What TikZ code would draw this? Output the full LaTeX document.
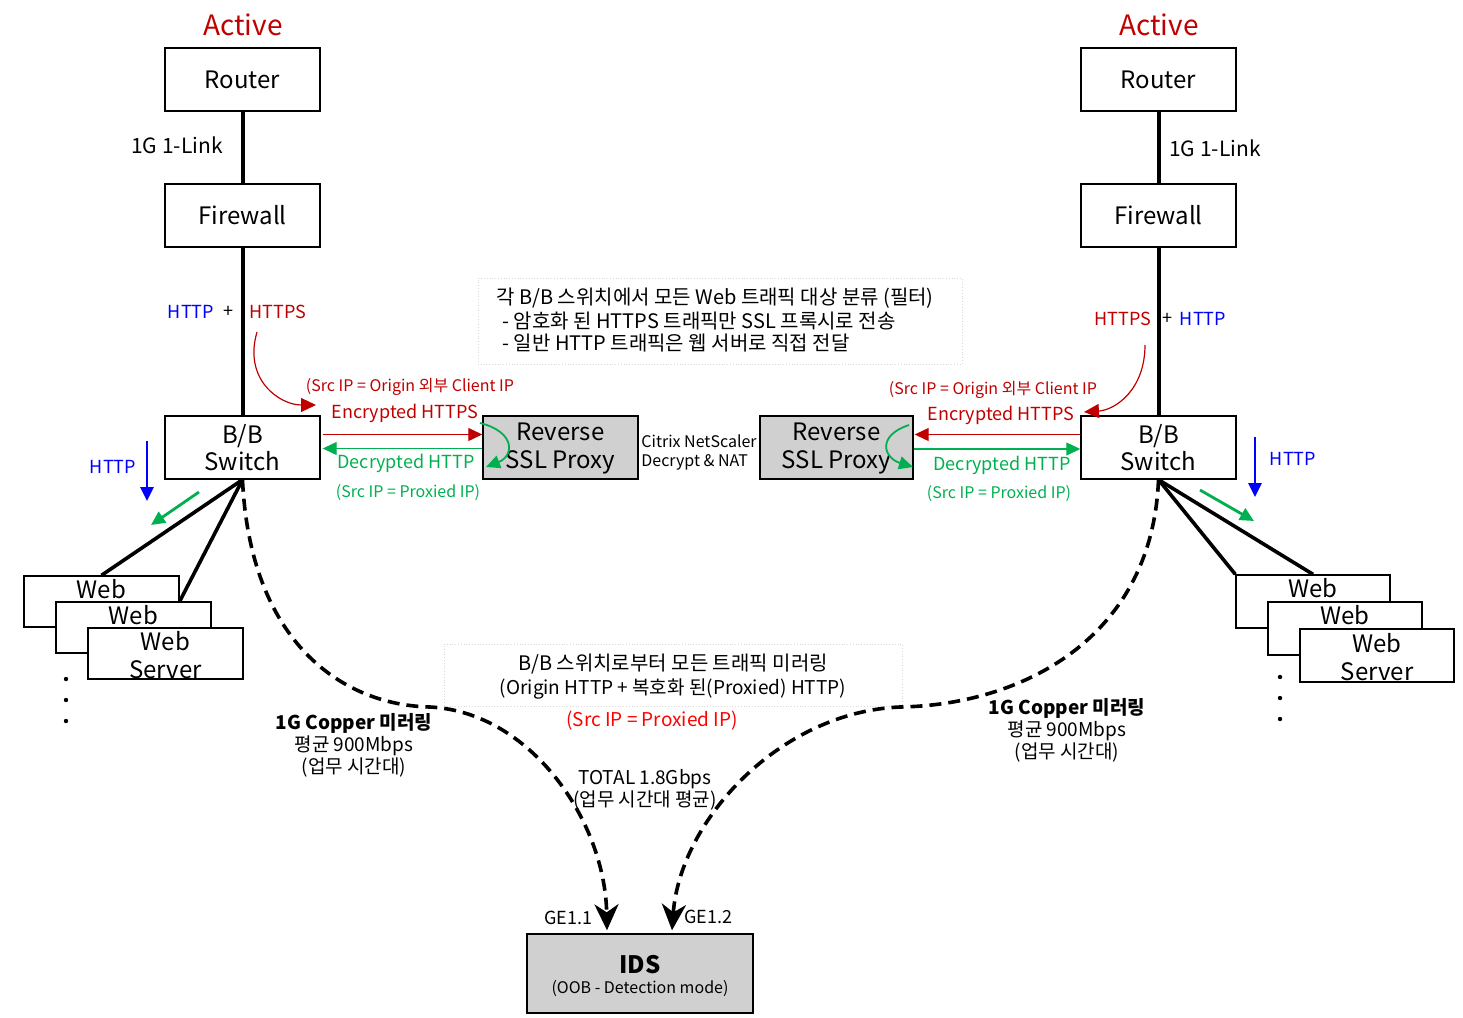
\documentclass[tikz,border=0pt]{standalone}
\usepackage{fontspec}
\setmainfont{Noto Sans CJK KR}
\usetikzlibrary{arrows.meta,calc}
\definecolor{dred}{HTML}{C00000}
\definecolor{mblue}{HTML}{0000FF}
\definecolor{mgreen}{HTML}{00B050}
\definecolor{mred}{HTML}{FF0000}
\definecolor{boxgray}{HTML}{D0D0D0}
\definecolor{notegray}{HTML}{D8D8D8}
\tikzset{
  box/.style={draw, line width=0.7pt, minimum width=77.5pt, minimum height=31.5pt, align=center, inner sep=0pt, font=\fontsize{12}{13.5}\selectfont},
  webbox/.style={draw, fill=white, line width=0.7pt, minimum width=77.5pt, minimum height=25.5pt, inner sep=0pt},
  notebox/.style={draw=notegray, densely dotted, line width=0.4pt, inner sep=0pt},
  txt/.style={inner sep=0pt, align=center},
  f8/.style={txt, font=\fontsize{8}{9.5}\selectfont},
  f9/.style={txt, font=\fontsize{9}{11}\selectfont},
  f95/.style={txt, font=\fontsize{9.5}{11}\selectfont},
  f10/.style={txt, font=\fontsize{10}{12}\selectfont},
  f105/.style={txt, font=\fontsize{10.5}{12}\selectfont},
  f12/.style={txt, font=\fontsize{12}{14}\selectfont},
  f14/.style={txt, font=\fontsize{14}{16}\selectfont},
  thickline/.style={line width=2pt},
  webline/.style={line width=1.8pt},
  dashline/.style={line width=1.8pt, dash pattern=on 6pt off 3.5pt, -{Stealth[length=13pt, width=12pt, inset=4pt]}},
  redarrow/.style={dred, line width=0.6pt, -{Triangle[length=7pt, width=6.5pt]}},
  grnarrow/.style={mgreen, line width=0.6pt, -{Triangle[length=7pt, width=6.5pt]}},
  grncurve/.style={mgreen, line width=0.9pt, -{Triangle[length=7pt, width=6.5pt]}},
  redcurve/.style={dred, line width=0.6pt, -{Triangle[length=7.5pt, width=7pt]}},
  smallarrow/.style={line width=1.4pt, -{Triangle[length=7pt, width=6.5pt]}},
  dot/.style={circle, fill=black, inner sep=0pt, minimum size=2.2pt}
}
\begin{document}
\begin{tikzpicture}[x=0.5pt, y=-0.5pt]
\useasboundingbox (0,0) rectangle (1463,1018);

% ---------- notes ----------
\node[notebox, minimum width=242pt, minimum height=43pt] (topnote) at (720,321) {};
\node[f10, anchor=west] (tn1) at (496,298) {각 B/B 스위치에서 모든 Web 트래픽 대상 분류 (필터)};
\node[f10, anchor=west] (tn2) at (502,321) {- 암호화 된 HTTPS 트래픽만 SSL 프록시로 전송};
\node[f10, anchor=west] (tn3) at (502,343) {- 일반 HTTP 트래픽은 웹 서버로 직접 전달};

\node[notebox, minimum width=229pt, minimum height=31pt] (mnote) at (673,675) {};
\node[f10] (mn1) at (673,664) {B/B 스위치로부터 모든 트래픽 미러링};
\node[f95] (mn2) at (673,689) {(Origin HTTP + 복호화 된(Proxied) HTTP)};

% ---------- left column ----------
\node[f14, text=dred] (actL) at (243,25) {Active};
\node[box] (rtL) at (242.5,79.5) {Router};
\node[box] (fwL) at (242.5,215.5) {Firewall};
\node[box] (bbL) at (242.5,447.5) {B/B\\Switch};
\node[box, fill=boxgray] (pxL) at (560.5,447.5) {};
\node[f12] (pxLt) at (560.5,449) {Reverse\\SSL Proxy};

% ---------- right column ----------
\node[f14, text=dred] (actR) at (1159,25) {Active};
\node[box] (rtR) at (1158.5,79.5) {Router};
\node[box] (fwR) at (1158.5,215.5) {Firewall};
\node[box] (bbR) at (1158.5,447.5) {B/B\\Switch};
\node[box, fill=boxgray, minimum width=76.5pt] (pxR) at (836.5,447.5) {};
\node[f12] (pxRt) at (836.5,449) {Reverse\\SSL Proxy};

\draw[thickline] (rtL) -- (fwL);
\draw[thickline] (fwL) -- (bbL);
\draw[thickline] (rtR) -- (fwR);
\draw[thickline] (fwR) -- (bbR);

\node[f105] (lkL) at (177,145) {1G 1-Link};
\node[f105] (lkR) at (1215,148) {1G 1-Link};

\node[f9, text=mblue] (hL1) at (191,312) {HTTP};
\node[f9] (pL) at (228,312) {+};
\node[f9, text=dred] (hL2) at (278,312) {HTTPS};
\node[f9, text=dred] (hR1) at (1123,319) {HTTPS};
\node[f9] (pR) at (1167,319) {+};
\node[f9, text=mblue] (hR2) at (1203,319) {HTTP};

% red curved arrows
\coordinate (rcL1) at (257,332);
\coordinate (rcL2) at (316,405);
\draw[redcurve] (rcL1) .. controls (243,380) and (280,405) .. (rcL2);
\coordinate (rcR1) at (1145,345);
\coordinate (rcR2) at (1084,412);
\draw[redcurve] (rcR1) .. controls (1145,390) and (1115,410) .. (rcR2);

% labels between switch and proxy
\node[f8, text=dred] (srcL) at (410,387) {(Src IP = Origin 외부 Client IP};
\node[f9, text=dred] (encL) at (405,413) {Encrypted HTTPS};
\node[f9, text=mgreen] (decL) at (406,463) {Decrypted HTTP};
\node[f8, text=mgreen] (prxL) at (408,493) {(Src IP = Proxied IP)};
\node[f8, text=dred] (srcR) at (993,390) {(Src IP = Origin 외부 Client IP};
\node[f9, text=dred] (encR) at (1001,415) {Encrypted HTTPS};
\node[f9, text=mgreen] (decR) at (1002,465) {Decrypted HTTP};
\node[f8, text=mgreen] (prxR) at (999,494) {(Src IP = Proxied IP)};

\draw[redarrow] ($(bbL.east)+(2,-13)$) -- ($(pxL.west)+(0,-13)$);
\draw[grnarrow] ($(pxL.west)+(0,1)$) -- ($(bbL.east)+(2,1)$);
\draw[redarrow] ($(bbR.west)+(0,-13)$) -- ($(pxR.east)+(1,-13)$);
\draw[grnarrow] ($(pxR.east)+(0,1.5)$) -- ($(bbR.west)+(0,1.5)$);

% green curves inside proxies
\coordinate (gcL1) at (480,423);
\coordinate (gcL2) at (486,467);
\draw[grncurve] (gcL1) .. controls (516,432) and (514,456) .. (gcL2);
\coordinate (gcR1) at (909,425);
\coordinate (gcR2) at (913,467);
\draw[grncurve] (gcR1) .. controls (876,436) and (884,458) .. (gcR2);

\node[f8, align=left, anchor=west] (ctx) at (641,452) {Citrix NetScaler\\Decrypt \& NAT};

% blue / green small arrows
\node[f9, text=mblue] (bhL) at (113,467) {HTTP};
\coordinate (baL1) at (147,441);
\coordinate (baL2) at (147,501);
\draw[smallarrow, mblue] (baL1) -- (baL2);
\coordinate (gaL1) at (199,492);
\coordinate (gaL2) at (151,525);
\draw[smallarrow, mgreen] (gaL1) -- (gaL2);
\node[f9, text=mblue] (bhR) at (1293,459) {HTTP};
\coordinate (baR1) at (1255,437);
\coordinate (baR2) at (1255,497);
\draw[smallarrow, mblue] (baR1) -- (baR2);
\coordinate (gaR1) at (1200,490);
\coordinate (gaR2) at (1254,521);
\draw[smallarrow, mgreen] (gaR1) -- (gaR2);

% web servers
\node[webbox] (wL1) at (101.5,601.5) {};
\node[f12] (wL1t) at (101.5,589) {Web};
\node[webbox] (wL2) at (133.5,627.5) {};
\node[f12] (wL2t) at (133.5,615) {Web};
\node[webbox] (wL3) at (165.5,653.5) {};
\node[f12] (wL3t) at (165.5,655) {Web\\Server};
\node[webbox, minimum width=77pt, minimum height=26.5pt] (wR1) at (1313,601.5) {};
\node[f12] (wR1t) at (1313,588) {Web};
\node[webbox, minimum width=77pt, minimum height=26.5pt] (wR2) at (1345,628.5) {};
\node[f12] (wR2t) at (1345,615) {Web};
\node[webbox, minimum width=77pt, minimum height=26.5pt] (wR3) at (1377,655.5) {};
\node[f12] (wR3t) at (1377,657) {Web\\Server};

\draw[webline] (bbL.south) -- (wL1.north);
\draw[webline] (bbL.south) -- (wL2.north -| wL1.east);
\draw[webline] (bbR.south) -- (wR1.north west);
\draw[webline] (bbR.south) -- (wR1.north);

\node[dot] (dL1) at (66,679) {};
\node[dot] (dL2) at (66,700) {};
\node[dot] (dL3) at (66,721) {};
\node[dot] (dR1) at (1280,677) {};
\node[dot] (dR2) at (1280,698) {};
\node[dot] (dR3) at (1280,719) {};

% IDS
\node[draw, fill=boxgray, line width=0.7pt, minimum width=113pt, minimum height=39.5pt, inner sep=0pt] (ids) at (640,973.5) {};
\node[txt, font=\fontsize{12}{14}\selectfont\bfseries] (idst) at (640,965) {IDS};
\node[f8] (idss) at (640,989) {(OOB - Detection mode)};
\node[f9] (ge1) at (568,918) {GE1.1};
\node[f9] (ge2) at (708,917) {GE1.2};

% mirroring curves
\coordinate (mL) at (430,707);
\coordinate (mR) at (900,707);
\draw[dashline] (bbL.south) .. controls (250,640) and (340,705) .. (mL) .. controls (530,712) and (605,820) .. ($(ids.north)+(-33,-3)$);
\draw[dashline] (bbR.south) .. controls (1152,640) and (1020,705) .. (mR) .. controls (780,712) and (680,820) .. ($(ids.north)+(32,-3)$);

% mirroring labels
\node[f95, text=mred] (mred) at (652,721) {(Src IP = Proxied IP)};
\node[f95] (tot) at (645,790) {TOTAL 1.8Gbps\\(업무 시간대 평균)};
\node[f95] (cpL) at (354,745) {\textbf{1G Copper 미러링}\\평균 900Mbps\\(업무 시간대)};
\node[f95] (cpR) at (1067,730) {\textbf{1G Copper 미러링}\\평균 900Mbps\\(업무 시간대)};
\end{tikzpicture}
\end{document}
